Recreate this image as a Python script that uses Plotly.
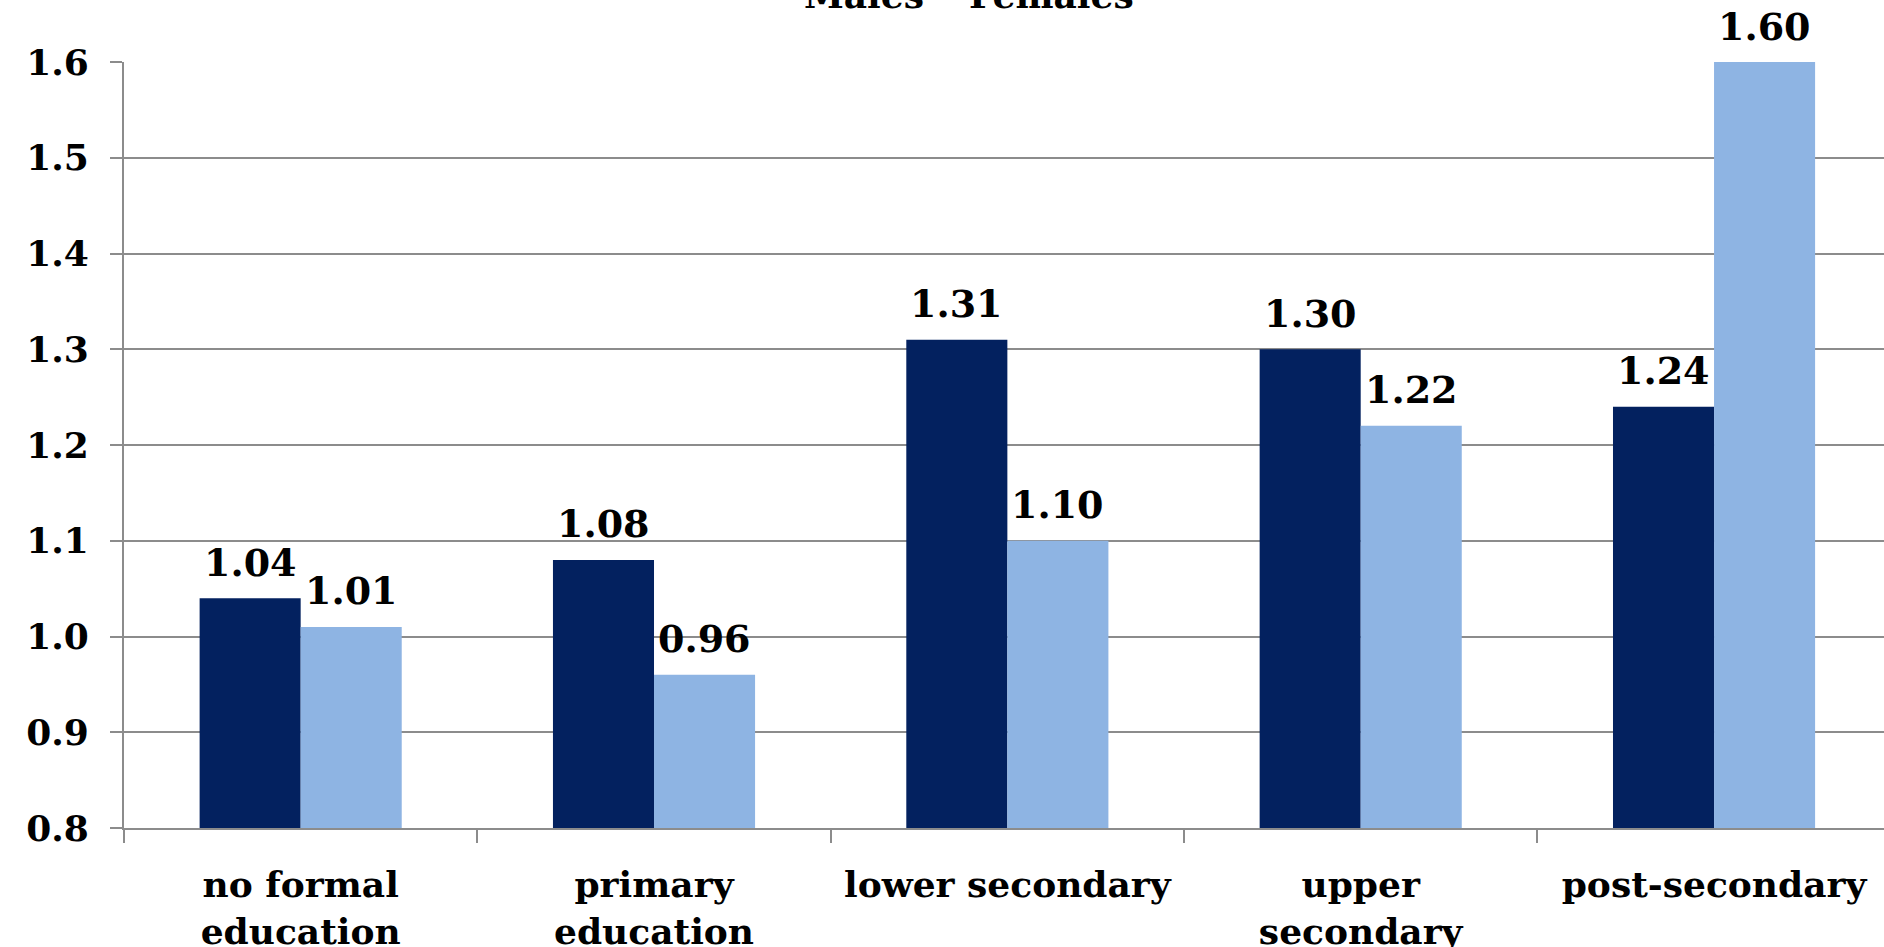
import plotly.graph_objects as go

# Education levels and ratio values per sex
categories = ["no formal<br>education", "primary<br>education", "lower secondary",
              "upper<br>secondary", "post-secondary"]
males = [1.04, 1.08, 1.31, 1.30, 1.24]
females = [1.01, 0.96, 1.10, 1.22, 1.60]
y_ticks = [0.8, 0.9, 1.0, 1.1, 1.2, 1.3, 1.4, 1.5, 1.6]

MALE_COLOR = "#03215F"
FEMALE_COLOR = "#8EB4E3"
GRID = "#8C8C8C"
FONT = "DejaVu Serif"
BARGAP = 0.428

fig = go.Figure()
fig.add_trace(go.Bar(name="Males", x=categories, y=males, marker_color=MALE_COLOR,
                     marker_line_width=0))
fig.add_trace(go.Bar(name="Females", x=categories, y=females, marker_color=FEMALE_COLOR,
                     marker_line_width=0))

# value labels above each bar, centred on the bar within its group
half = (1 - BARGAP) / 4
for series, shift in ((males, -half), (females, half)):
    for i, v in enumerate(series):
        fig.add_annotation(x=i + shift, y=v, xref="x", yref="y", text=f"{v:.2f}",
                           showarrow=False, yanchor="middle", yshift=36,
                           font=dict(family=FONT, size=38, color="black", weight="bold"))

fig.update_layout(
    width=1884, height=947,
    paper_bgcolor="white", plot_bgcolor="white",
    margin=dict(l=124, r=0, t=62, b=119, autoexpand=False),
    barmode="group", bargap=BARGAP, bargroupgap=0,
    font=dict(family=FONT, size=36, color="black", weight="bold"),
    showlegend=True,
    legend=dict(orientation="h", xref="container", yref="container",
                x=0.505, xanchor="center", y=1 - 24 / 947, yanchor="bottom",
                font=dict(family=FONT, size=36, color="black", weight="bold"),
                itemsizing="constant", bgcolor="rgba(0,0,0,0)"),
    xaxis=dict(
        type="category", tickson="boundaries",
        range=[-0.5, 4.481],
        showline=True, linecolor=GRID, linewidth=2,
        ticks="outside", ticklen=13, tickcolor=GRID, tickwidth=2,
        showgrid=False, zeroline=False,
        ticklabelstandoff=24,
        tickfont=dict(family=FONT, size=36, color="black", weight="bold"),
    ),
    yaxis=dict(
        range=[0.8, 1.6], tickmode="array", tickvals=y_ticks,
        ticktext=[f"{t:.1f}" for t in y_ticks],
        showline=True, linecolor=GRID, linewidth=2,
        ticks="outside", ticklen=12, tickcolor=GRID, tickwidth=2,
        showgrid=True, gridcolor=GRID, gridwidth=2, zeroline=False,
        ticklabelstandoff=14,
        tickfont=dict(family=FONT, size=36, color="black", weight="bold"),
    ),
)

fig.write_html("out.html")
